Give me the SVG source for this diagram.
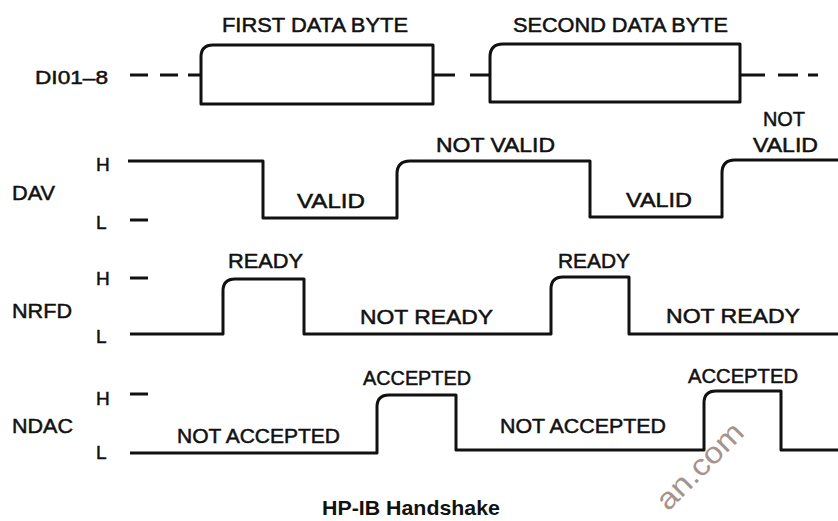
<svg xmlns="http://www.w3.org/2000/svg" width="838" height="521" viewBox="0 0 838 521">
<style>
.sig{fill:none;stroke:#111;stroke-width:3;stroke-linejoin:round;stroke-linecap:butt}
.t{font-family:"Liberation Sans",Arial,sans-serif;font-size:20px;fill:#111;stroke:#111;stroke-width:0.5}
.lab{font-size:21px}
.hl{font-size:19px}
.title{font-family:"Liberation Sans",Arial,sans-serif;font-size:21px;font-weight:bold;fill:#111}
.wm{font-family:"Liberation Sans",Arial,sans-serif;font-size:30px;fill:#a6948c}
</style>
<rect width="838" height="521" fill="#fff"/>
<g id="dio">
<text class="t hl" x="35" y="84" textLength="73" lengthAdjust="spacingAndGlyphs">DI01–8</text>
<path class="sig" d="M130,75 H148 M160,75 H178 M188,75 H201"/>
<path class="sig" d="M201,104 V57 Q201,45 213,45 H433 V104 Z"/>
<path class="sig" d="M433,75 H455 M470,75 H490"/>
<path class="sig" d="M490,102 V57 Q490,44 503,44 H740 V102 Z"/>
<path class="sig" d="M740,75 H765 M778,75 H798 M808,75 H818"/>
<text class="t" x="222" y="32" textLength="186" lengthAdjust="spacingAndGlyphs">FIRST DATA BYTE</text>
<text class="t" x="513" y="32" textLength="215" lengthAdjust="spacingAndGlyphs">SECOND DATA BYTE</text>
</g>
<g id="dav">
<text class="t lab" x="12" y="200" textLength="43" lengthAdjust="spacingAndGlyphs">DAV</text>
<text class="t hl" x="96" y="171">H</text>
<text class="t hl" x="96" y="229">L</text>
<path class="sig" d="M130,220 H148"/>
<path class="sig" d="M128,161 H263 V218 H397 V174 Q397,161 410,161 H590 V217 H722 V173 Q722,160 735,160 H838"/>
<text class="t" x="297" y="208" textLength="68" lengthAdjust="spacingAndGlyphs">VALID</text>
<text class="t" x="436" y="152" textLength="119" lengthAdjust="spacingAndGlyphs">NOT VALID</text>
<text class="t" x="626" y="207" textLength="66" lengthAdjust="spacingAndGlyphs">VALID</text>
<text class="t" x="763" y="126" textLength="42" lengthAdjust="spacingAndGlyphs">NOT</text>
<text class="t" x="753" y="152" textLength="65" lengthAdjust="spacingAndGlyphs">VALID</text>
</g>
<g id="nrfd">
<text class="t lab" x="12" y="318" textLength="60" lengthAdjust="spacingAndGlyphs">NRFD</text>
<text class="t hl" x="96" y="285">H</text>
<text class="t hl" x="96" y="343">L</text>
<path class="sig" d="M130,278 H148"/>
<path class="sig" d="M130,334 H223 V291 Q223,279 235,279 H304 V334 H551 V289 Q551,277 563,277 H629 V334 H838"/>
<text class="t" x="228" y="268" textLength="75" lengthAdjust="spacingAndGlyphs">READY</text>
<text class="t" x="360" y="324" textLength="133" lengthAdjust="spacingAndGlyphs">NOT READY</text>
<text class="t" x="558" y="268" textLength="72" lengthAdjust="spacingAndGlyphs">READY</text>
<text class="t" x="666" y="323" textLength="134" lengthAdjust="spacingAndGlyphs">NOT READY</text>
</g>
<g id="ndac">
<text class="t lab" x="12" y="433" textLength="61" lengthAdjust="spacingAndGlyphs">NDAC</text>
<text class="t hl" x="96" y="405">H</text>
<text class="t hl" x="96" y="459">L</text>
<path class="sig" d="M130,394 H148"/>
<path class="sig" d="M130,453 H377 V407 Q377,395 389,395 H456 V450 H704 V403 Q704,391 716,391 H781 V450 H838"/>
<text class="t" x="177" y="443" textLength="163" lengthAdjust="spacingAndGlyphs">NOT ACCEPTED</text>
<text class="t" x="363" y="385" textLength="108" lengthAdjust="spacingAndGlyphs">ACCEPTED</text>
<text class="t" x="500" y="433" textLength="166" lengthAdjust="spacingAndGlyphs">NOT ACCEPTED</text>
<text class="t" x="688" y="383" textLength="110" lengthAdjust="spacingAndGlyphs">ACCEPTED</text>
</g>
<g id="caption">
<text class="title" x="322" y="515" textLength="178" lengthAdjust="spacingAndGlyphs">HP-IB Handshake</text>
<text class="wm" x="668" y="512" transform="rotate(-45 668 512)" textLength="110" lengthAdjust="spacingAndGlyphs">an.com</text>
</g>
</svg>
